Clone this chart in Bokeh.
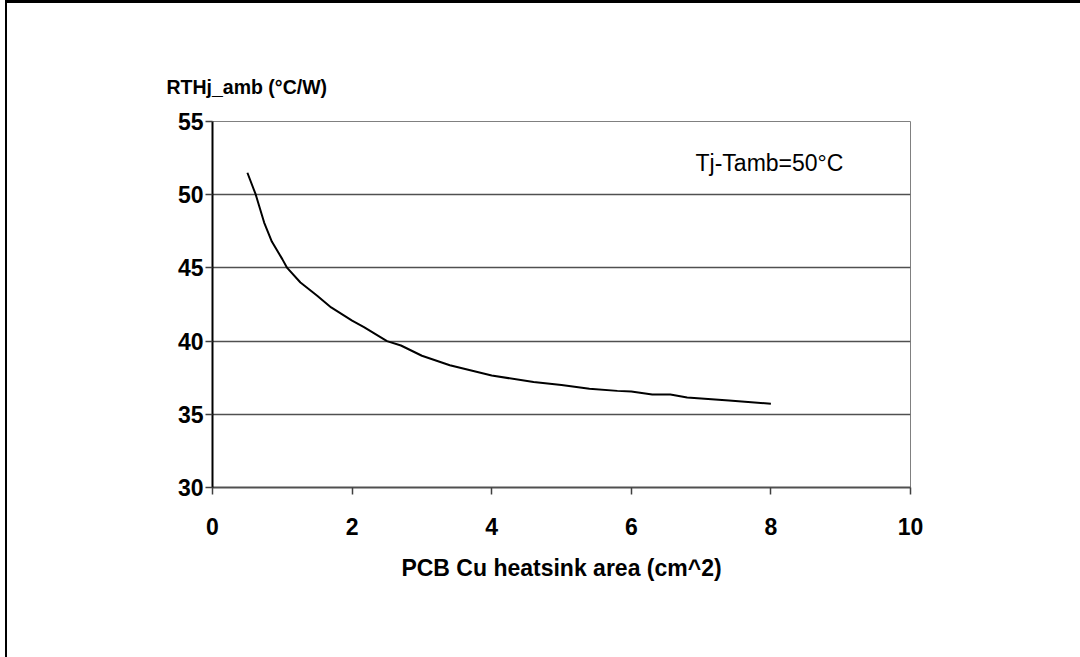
from bokeh.plotting import figure
from bokeh.models import Range1d, FixedTicker, Label
from bokeh.embed import file_html
from bokeh.resources import INLINE

# Data
area_cm2 = [0.5, 0.62, 0.74, 0.85, 1.0, 1.07, 1.26, 1.5, 1.7, 2.0, 2.17, 2.5, 2.7,
            3.0, 3.4, 4.0, 4.6, 5.0, 5.4, 5.8, 6.0, 6.3, 6.56, 6.8, 7.4, 8.0]
rth_j_amb = [51.5, 50.0, 48.1, 46.8, 45.6, 45.0, 44.0, 43.1, 42.3, 41.4, 40.95, 40.0, 39.7,
             39.0, 38.35, 37.65, 37.2, 37.0, 36.75, 36.6, 36.55, 36.35, 36.35, 36.15, 35.95, 35.72]
x_ticks = [0, 2, 4, 6, 8, 10]
y_ticks = [30, 35, 40, 45, 50, 55]

W, H = 1090, 665
p = figure(width=W, height=H, output_backend="svg", toolbar_location=None,
           x_range=Range1d(0, 10), y_range=Range1d(30, 55),
           min_border_left=205, min_border_right=W - 903,
           min_border_top=118, min_border_bottom=H - 484,
           title="RTHj_amb (°C/W)")
p.styles = {"margin-left": "7px", "margin-top": "3px",
            "box-shadow": "-2px -3px 0 0 black"}

p.background_fill_color = "white"
p.border_fill_color = "white"
p.outline_line_color = "#808080"
p.outline_line_width = 1

FONT = "Liberation Sans"

p.title.text_font = FONT
p.title.text_font_style = "bold"
p.title.text_font_size = "19.5px"
p.title.text_color = "black"
p.title.align = "left"
p.title.offset = -46
p.title.standoff = 48

p.xaxis.ticker = FixedTicker(ticks=x_ticks)
p.yaxis.ticker = FixedTicker(ticks=y_ticks)
for ax in (p.xaxis, p.yaxis):
    ax.major_label_text_font = FONT
    ax.major_label_text_font_style = "bold"
    ax.major_label_text_font_size = "23px"
    ax.major_label_text_color = "black"
    ax.major_tick_in = 0
    ax.major_tick_out = 7
    ax.minor_tick_in = 0
    ax.minor_tick_out = 0
    ax.major_tick_line_color = "#404040"
    ax.major_tick_line_width = 1.5

p.yaxis.axis_line_color = "black"
p.yaxis.axis_line_width = 2
p.yaxis.major_label_standoff = 2
p.xaxis.axis_line_color = "#505050"
p.xaxis.axis_line_width = 2
p.xaxis.major_label_standoff = 23

p.xaxis.axis_label = "PCB Cu heatsink area (cm^2)"
p.xaxis.axis_label_text_font = FONT
p.xaxis.axis_label_text_font_style = "bold"
p.xaxis.axis_label_text_font_size = "23px"
p.xaxis.axis_label_text_color = "black"
p.xaxis.axis_label_standoff = 17

p.xgrid.grid_line_color = None
p.ygrid.grid_line_color = "#505050"
p.ygrid.grid_line_width = 1.6

p.line(area_cm2, rth_j_amb, line_color="black", line_width=2)

p.add_layout(Label(x=6.92, y=52.18, text="Tj-Tamb=50°C", text_font=FONT,
                   text_font_size="23px", text_color="black",
                   text_baseline="alphabetic", text_align="left"))

open("out.html", "w").write(file_html(p, INLINE))
